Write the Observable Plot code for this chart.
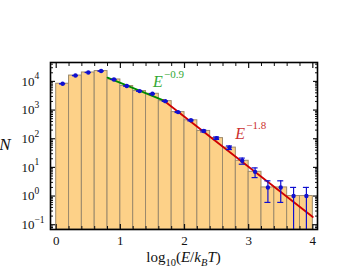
<!DOCTYPE html>
<html>
<head>
<meta charset="utf-8">
<script src="https://cdn.jsdelivr.net/npm/d3@7"></script>
<script src="https://cdn.jsdelivr.net/npm/@observablehq/plot@0.6"></script>
<style>
  html, body { margin: 0; padding: 0; background: #fff; }
</style>
</head>
<body>
<div id="chart"></div>
<script>
// Histogram bin edges (log10(E/kBT))
const binStart = [0.0, 0.2, 0.4, 0.6, 0.8, 1.0, 1.2, 1.4, 1.6, 1.8, 2.0, 2.2, 2.4, 2.6, 2.8, 3.0, 3.2, 3.4, 3.6, 3.8];
const binEnd   = [0.2, 0.4, 0.6, 0.8, 1.0, 1.2, 1.4, 1.6, 1.8, 2.0, 2.2, 2.4, 2.6, 2.8, 3.0, 3.2, 3.4, 3.6, 3.8, 4.0];
const binMid   = [0.1, 0.3, 0.5, 0.7, 0.9, 1.1, 1.3, 1.5, 1.7, 1.9, 2.1, 2.3, 2.5, 2.7, 2.9, 3.1, 3.3, 3.5, 3.7, 3.9];
// Counts N per bin
const counts = [8300, 16000, 20500, 23000, 11700, 6900, 4600, 3700, 2050, 850, 440, 187, 105, 49, 17, 7, 2, 2, 1, 1];
// Error bar half-lengths
const errors = [91, 126, 143, 152, 108, 83, 68, 61, 45, 29, 21, 14, 10, 7, 4.1, 2.6, 1.4, 1.4, 1, 1];

// Power-law fit segments
const greenX = [0.8, 1.67];
const greenN = [13500, 2190];
const redX = [1.67, 4.0];
const redN = [2190, 0.186];

// Axes
const xDomain = [-0.089, 4.073];
const yDomain = [Math.pow(10, -1.167), Math.pow(10, 4.66)];
const xMajor = [0, 1, 2, 3, 4];
const xMinor = [0.2, 0.4, 0.6, 0.8, 1.2, 1.4, 1.6, 1.8, 2.2, 2.4, 2.6, 2.8, 3.2, 3.4, 3.6, 3.8];
const yMajor = [0.1, 1, 10, 100, 1000, 10000];
const yExp = ["−1", "0", "1", "2", "3", "4"];
const yMinor = [];
[0.01, 0.1, 1, 10, 100, 1000, 10000].forEach(d => { for (let k = 2; k <= 9; k++) yMinor.push(d * k); });
const yMinorIn = yMinor.filter(v => v > yDomain[0] && v < yDomain[1]);

const bars = binStart.map((s, i) => ({x1: s, x2: binEnd[i], n: counts[i]}));
const pts = binMid.map((m, i) => ({
  x: m, n: counts[i],
  lo: Math.max(counts[i] - errors[i], yDomain[0]),
  hi: counts[i] + errors[i]
}));
const capHalf = 0.047;
const green = greenX.map((x, i) => ({x, n: greenN[i]}));
const red = redX.map((x, i) => ({x, n: redN[i]}));
const yTickData = yMajor.map((v, i) => ({v, e: yExp[i]}));

const serif = "Liberation Serif, DejaVu Serif, serif";
const blue = "#1010d0";

const plot = Plot.plot({
  width: 353,
  height: 273,
  marginLeft: 50,
  marginRight: 36,
  marginTop: 62,
  marginBottom: 44,
  style: {fontFamily: serif, background: "#fff", color: "#111", overflow: "visible"},
  x: {domain: xDomain, label: null},
  y: {type: "log", domain: yDomain, label: null},
  marks: [
    Plot.rect(bars, {x1: "x1", x2: "x2", y1: yDomain[0], y2: "n", fill: "#fdd188", stroke: "#9c8a6c", strokeWidth: 1}),
    Plot.line(green, {x: "x", y: "n", stroke: "#008a00", strokeWidth: 1.8}),
    Plot.line(red, {x: "x", y: "n", stroke: "#d00000", strokeWidth: 1.8}),
    Plot.ruleX(pts, {x: "x", y1: "lo", y2: "hi", stroke: blue, strokeWidth: 1.2, clip: true}),
    Plot.ruleY(pts, {y: "hi", x1: d => d.x - capHalf, x2: d => d.x + capHalf, stroke: blue, strokeWidth: 1.2}),
    Plot.ruleY(pts.filter(d => d.lo > yDomain[0]), {y: "lo", x1: d => d.x - capHalf, x2: d => d.x + capHalf, stroke: blue, strokeWidth: 1.2}),
    Plot.dot(pts, {x: "x", y: "n", r: 2.2, fill: blue, stroke: "none"}),
    // inward ticks on all sides
    Plot.axisX(xMajor, {anchor: "bottom", tickSize: -5, tickFormat: () => "", strokeWidth: 1.2}),
    Plot.axisX(xMajor, {anchor: "top", tickSize: -5, tickFormat: () => "", strokeWidth: 1.2}),
    Plot.axisX(xMinor, {anchor: "bottom", tickSize: -3, tickFormat: () => ""}),
    Plot.axisX(xMinor, {anchor: "top", tickSize: -3, tickFormat: () => ""}),
    Plot.axisY(yMajor, {anchor: "left", tickSize: -5, tickFormat: () => "", strokeWidth: 1.2}),
    Plot.axisY(yMajor, {anchor: "right", tickSize: -5, tickFormat: () => "", strokeWidth: 1.2}),
    Plot.axisY(yMinorIn, {anchor: "left", tickSize: -3, tickFormat: () => ""}),
    Plot.axisY(yMinorIn, {anchor: "right", tickSize: -3, tickFormat: () => ""}),
    // x tick labels
    Plot.axisX(xMajor, {anchor: "bottom", tickSize: 0, tickPadding: 6, fontSize: 13, tickFormat: d => String(d), fill: "#111"}),
    // y tick labels 10^k
    Plot.text(yTickData, {y: "v", text: () => "10", frameAnchor: "left", dx: -29, textAnchor: "start", fontSize: 13, fill: "#111"}),
    Plot.text(yTickData, {y: "v", text: "e", frameAnchor: "left", dx: -16, dy: -5, textAnchor: "start", fontSize: 9.5, fill: "#111"}),
    // fit labels
    Plot.text([{x: 1.51, n: 9450}], {x: "x", y: "n", text: () => "E", textAnchor: "start", fontSize: 16, fontStyle: "italic", fill: "#33a833"}),
    Plot.text([{x: 1.51, n: 9450}], {x: "x", y: "n", text: () => "−0.9", dx: 11, dy: -8, textAnchor: "start", fontSize: 11, fill: "#33a833"}),
    Plot.text([{x: 2.79, n: 148}], {x: "x", y: "n", text: () => "E", textAnchor: "start", fontSize: 16, fontStyle: "italic", fill: "#cc3030"}),
    Plot.text([{x: 2.79, n: 148}], {x: "x", y: "n", text: () => "−1.8", dx: 11, dy: -8, textAnchor: "start", fontSize: 11, fill: "#cc3030"}),
    Plot.frame({stroke: "#000", strokeWidth: 1.6})
  ]
});

const svg = d3.select(plot);
// y axis label N
svg.append("text")
  .attr("x", 5).attr("y", 150)
  .attr("font-family", serif).attr("font-size", 17).attr("font-style", "italic").attr("fill", "#111")
  .text("N");
// x axis label log10(E/k_B T)
const xl = svg.append("text")
  .attr("x", 183.5).attr("y", 262)
  .attr("text-anchor", "middle")
  .attr("font-family", serif).attr("font-size", 15).attr("fill", "#111");
xl.append("tspan").text("log");
xl.append("tspan").attr("font-size", 10.5).attr("dy", 4).text("10");
xl.append("tspan").attr("dy", -4).text("(");
xl.append("tspan").attr("font-style", "italic").text("E");
xl.append("tspan").text("/");
xl.append("tspan").attr("font-style", "italic").text("k");
xl.append("tspan").attr("font-style", "italic").attr("font-size", 10.5).attr("dy", 4).text("B");
xl.append("tspan").attr("font-style", "italic").attr("dy", -4).text("T");
xl.append("tspan").text(")");

document.getElementById("chart").appendChild(plot);
</script>
</body>
</html>
